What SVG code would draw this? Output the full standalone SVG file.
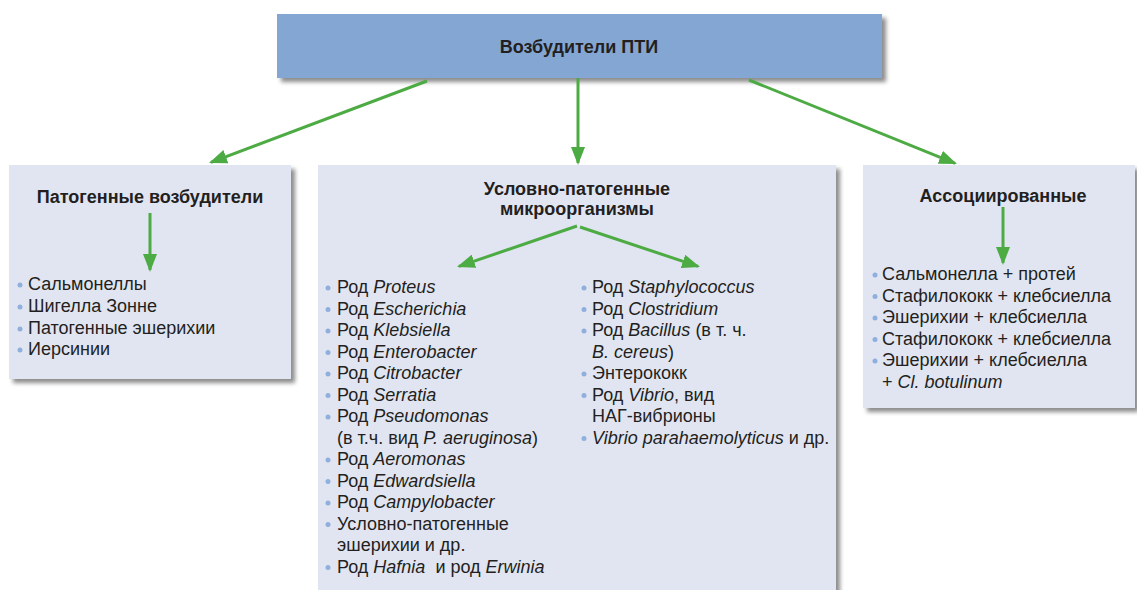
<svg xmlns="http://www.w3.org/2000/svg" width="1137" height="590" viewBox="0 0 1137 590">
<style>
text{font-family:"Liberation Sans",Arial,sans-serif;fill:#231f20}
.t{font-size:18px;font-weight:bold}
.b{font-size:18px}
.i{font-style:italic}
.box{fill:#e1e5f2;filter:url(#sh)}
.top{fill:#84a6d3;filter:url(#sh)}
.dot{fill:#8fb0dc}
.ar{stroke:#4dab43;stroke-width:3;fill:none;marker-end:url(#ah)}
</style>
<defs>
<filter id="sh" x="-5%" y="-5%" width="115%" height="120%">
<feDropShadow dx="4" dy="4" stdDeviation="2" flood-color="#000" flood-opacity="0.45"/>
</filter>
<marker id="ah" markerUnits="userSpaceOnUse" markerWidth="18" markerHeight="14" refX="16" refY="7" orient="auto">
<path d="M0,0 L18,7 L0,14 z" fill="#4dab43"/>
</marker>
</defs>
<rect width="1137" height="590" fill="#fff"/>

<g id="top-node">
<rect class="top" x="277" y="14" width="605" height="64"/>
<text class="t" x="579" y="53" text-anchor="middle">Возбудители ПТИ</text>
</g>

<g id="pathogenic">
<rect class="box" x="9" y="165" width="282" height="214"/>
<text class="t" x="150" y="203" text-anchor="middle">Патогенные возбудители</text>
<circle class="dot" cx="20" cy="285" r="2.5"/><text class="b" x="28" y="290">Сальмонеллы</text>
<circle class="dot" cx="20" cy="307" r="2.5"/><text class="b" x="28" y="312">Шигелла Зонне</text>
<circle class="dot" cx="20" cy="329" r="2.5"/><text class="b" x="28" y="334">Патогенные эшерихии</text>
<circle class="dot" cx="20" cy="350" r="2.5"/><text class="b" x="28" y="355">Иерсинии</text>
</g>

<g id="opportunistic">
<rect class="box" x="318" y="165" width="518" height="440"/>
<text class="t" x="577" y="195" text-anchor="middle">Условно-патогенные</text>
<text class="t" x="577" y="215" text-anchor="middle">микроорганизмы</text>
<g id="opportunistic-left">
<circle class="dot" cx="328" cy="288" r="2.5"/><text class="b" x="337" y="293">Род <tspan class="i">Proteus</tspan></text>
<circle class="dot" cx="328" cy="309.5" r="2.5"/><text class="b" x="337" y="314.5">Род <tspan class="i">Escherichia</tspan></text>
<circle class="dot" cx="328" cy="331" r="2.5"/><text class="b" x="337" y="336">Род <tspan class="i">Klebsiella</tspan></text>
<circle class="dot" cx="328" cy="352.5" r="2.5"/><text class="b" x="337" y="357.5">Род <tspan class="i">Enterobacter</tspan></text>
<circle class="dot" cx="328" cy="374" r="2.5"/><text class="b" x="337" y="379">Род <tspan class="i">Citrobacter</tspan></text>
<circle class="dot" cx="328" cy="395.5" r="2.5"/><text class="b" x="337" y="400.5">Род <tspan class="i">Serratia</tspan></text>
<circle class="dot" cx="328" cy="417" r="2.5"/><text class="b" x="337" y="422">Род <tspan class="i">Pseudomonas</tspan></text>
<text class="b" x="337" y="443.5">(в т.ч. вид <tspan class="i">P. aeruginosa</tspan>)</text>
<circle class="dot" cx="328" cy="460" r="2.5"/><text class="b" x="337" y="465">Род <tspan class="i">Aeromonas</tspan></text>
<circle class="dot" cx="328" cy="481.5" r="2.5"/><text class="b" x="337" y="486.5">Род <tspan class="i">Edwardsiella</tspan></text>
<circle class="dot" cx="328" cy="503" r="2.5"/><text class="b" x="337" y="508">Род <tspan class="i">Campylobacter</tspan></text>
<circle class="dot" cx="328" cy="524.5" r="2.5"/><text class="b" x="337" y="529.5">Условно-патогенные</text>
<text class="b" x="337" y="551">эшерихии и др.</text>
<circle class="dot" cx="328" cy="567.5" r="2.5"/><text class="b" x="337" y="572.5">Род <tspan class="i">Hafnia</tspan>&#160; и род <tspan class="i">Erwinia</tspan></text>
</g>
<g id="opportunistic-right">
<circle class="dot" cx="584" cy="288" r="2.5"/><text class="b" x="592" y="293">Род <tspan class="i">Staphylococcus</tspan></text>
<circle class="dot" cx="584" cy="309.5" r="2.5"/><text class="b" x="592" y="314.5">Род <tspan class="i">Clostridium</tspan></text>
<circle class="dot" cx="584" cy="331" r="2.5"/><text class="b" x="592" y="336">Род <tspan class="i">Bacillus</tspan> (в т. ч.</text>
<text class="b" x="592" y="357.5"><tspan class="i">B. cereus</tspan>)</text>
<circle class="dot" cx="584" cy="374" r="2.5"/><text class="b" x="592" y="379">Энтерококк</text>
<circle class="dot" cx="584" cy="395.5" r="2.5"/><text class="b" x="592" y="400.5">Род <tspan class="i">Vibrio</tspan>, вид</text>
<text class="b" x="592" y="422">НАГ-вибрионы</text>
<circle class="dot" cx="584" cy="438.5" r="2.5"/><text class="b" x="592" y="443.5"><tspan class="i">Vibrio parahaemolyticus</tspan> и др.</text>
</g>
</g>

<g id="associated">
<rect class="box" x="863" y="165" width="272" height="243"/>
<text class="t" x="1003" y="202" text-anchor="middle">Ассоциированные</text>
<circle class="dot" cx="875" cy="275" r="2.5"/><text class="b" x="882" y="280">Сальмонелла + протей</text>
<circle class="dot" cx="875" cy="296.5" r="2.5"/><text class="b" x="882" y="301.5">Стафилококк + клебсиелла</text>
<circle class="dot" cx="875" cy="318" r="2.5"/><text class="b" x="882" y="323">Эшерихии + клебсиелла</text>
<circle class="dot" cx="875" cy="339.5" r="2.5"/><text class="b" x="882" y="344.5">Стафилококк + клебсиелла</text>
<circle class="dot" cx="875" cy="361" r="2.5"/><text class="b" x="882" y="366">Эшерихии + клебсиелла</text>
<text class="b" x="882" y="387.5">+ <tspan class="i">Cl. botulinum</tspan></text>
</g>

<g id="connectors">
<line class="ar" x1="427" y1="81" x2="210.9" y2="162.3"/>
<line class="ar" x1="578" y1="78" x2="578" y2="163"/>
<line class="ar" x1="749" y1="80" x2="955.1" y2="163.3"/>
<line class="ar" x1="577" y1="226" x2="458.9" y2="266.4"/>
<line class="ar" x1="580" y1="227" x2="698.1" y2="266.4"/>
<line class="ar" x1="150" y1="213" x2="150" y2="270"/>
<line class="ar" x1="1003" y1="207" x2="1003" y2="263"/>
</g>
</svg>
